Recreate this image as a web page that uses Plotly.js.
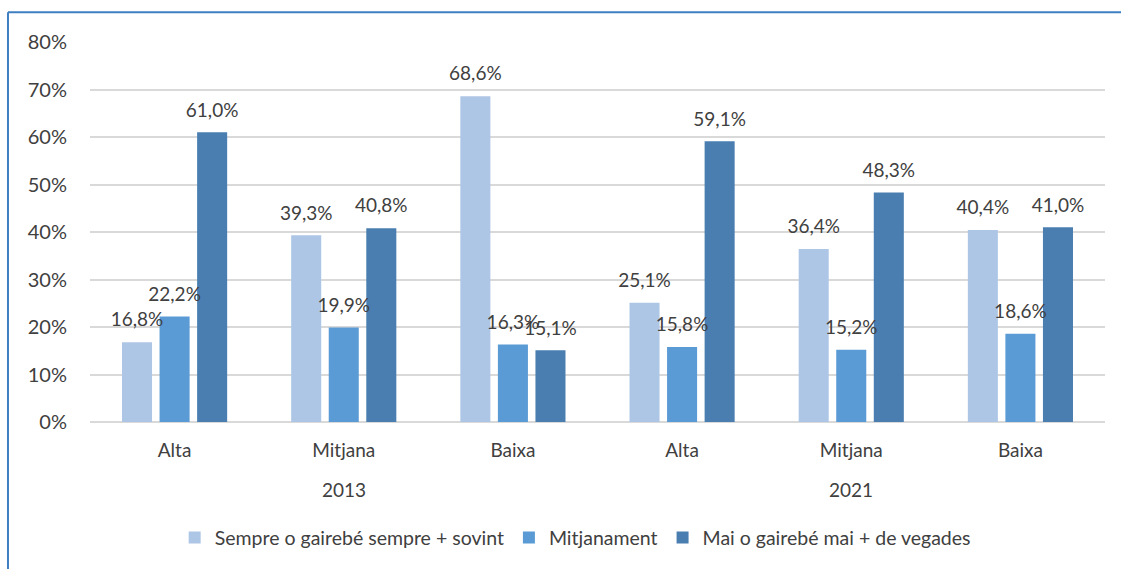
<!DOCTYPE html>
<html>
<head>
<meta charset="utf-8">
<script src="https://cdn.plot.ly/plotly-3.0.1.min.js"></script>
<style>html,body{margin:0;padding:0;background:#fff;}#chart{width:1121px;height:569px;}</style>
</head>
<body>
<div id="chart"></div>
<script>
const years = ['2013','2013','2013','2021','2021','2021'];
const classes = ['Alta','Mitjana','Baixa','Alta','Mitjana','Baixa'];
const seriesNames = ['Sempre o gairebé sempre + sovint','Mitjanament','Mai o gairebé mai + de vegades'];
const sempre = [16.8, 39.3, 68.6, 25.1, 36.4, 40.4];
const mitjanament = [22.2, 19.9, 16.3, 15.8, 15.2, 18.6];
const mai = [61.0, 40.8, 15.1, 59.1, 48.3, 41.0];
const yTicks = [0, 10, 20, 30, 40, 50, 60, 70, 80];
const yTickText = ['0%', '10%', '20%', '30%', '40%', '50%', '60%', '70%', '80%'];

const colors = ['#adc6e6', '#5b9bd5', '#4a7eb0'];
const textColor = '#404040';
const fontFam = 'Lato, "Open Sans", sans-serif';
const allSeries = [sempre, mitjanament, mai];

// unique category keys (class + year), shown with class names only
const keys = classes.map((c, i) => c + ' ' + years[i]);

const traces = [];
allSeries.forEach((vals, i) => {
  traces.push({
    type: 'bar', name: seriesNames[i], x: keys, y: vals,
    marker: {color: colors[i]}, hoverinfo: 'y'
  });
});
allSeries.forEach((vals, i) => {
  traces.push({
    type: 'scatter', mode: 'markers+text', x: keys, y: vals,
    texttemplate: '%{y:.1f}%', textposition: 'top center',
    textfont: {size: 19, color: textColor, family: fontFam},
    marker: {size: 16, opacity: 0, color: colors[i]},
    showlegend: false, cliponaxis: false, hoverinfo: 'skip'
  });
});

// year group labels centred under the middle category of each year
const uniqueYears = [...new Set(years)];
const yearAnnotations = uniqueYears.map(yr => {
  const idx = years.map((v, i) => v === yr ? i : -1).filter(i => i >= 0);
  const mid = idx[Math.floor(idx.length / 2)];
  return {
    text: yr, xref: 'x', x: keys[mid], yref: 'paper', y: -0.1775, yanchor: 'middle',
    showarrow: false, font: {size: 19, color: textColor, family: fontFam}
  };
});

const layout = {
  width: 1121, height: 569,
  margin: {l: 90, r: 16, t: 42, b: 144},
  paper_bgcolor: '#ffffff', plot_bgcolor: '#ffffff',
  separators: ',.',
  font: {family: fontFam, size: 19, color: textColor},
  barmode: 'group', bargap: 0.334, bargroupgap: 0.2,
  scattermode: 'group', scattergap: 0.334,
  showlegend: true,
  legend: {orientation: 'h', x: 0.478, xanchor: 'center', y: -0.305, yanchor: 'middle',
           itemwidth: 30,
           font: {size: 19.5, color: textColor, family: fontFam}, traceorder: 'normal'},
  xaxis: {type: 'category', tickvals: keys, ticktext: classes, showgrid: false, ticks: '',
          tickfont: {size: 19, color: textColor}, showline: false, zeroline: false,
          ticklabelstandoff: 15, fixedrange: true},
  yaxis: {range: [0, 80], tickvals: yTicks, ticktext: yTickText, showgrid: true,
          gridcolor: '#d9d9d9', gridwidth: 2, zeroline: true, zerolinecolor: '#d9d9d9',
          zerolinewidth: 2, showline: false, ticks: '', ticklabelstandoff: 22,
          tickfont: {size: 20, color: textColor}, fixedrange: true},
  annotations: yearAnnotations,
  shapes: [
    {type: 'line', xref: 'paper', yref: 'paper', x0: -0.0808, x1: 1.2, y0: 1.0783, y1: 1.0783,
     line: {color: '#3f7fc1', width: 2}},
    {type: 'line', xref: 'paper', yref: 'paper', x0: -0.0808, x1: -0.0808, y0: -0.5, y1: 1.0783,
     line: {color: '#3f7fc1', width: 2}}
  ]
};

Plotly.newPlot('chart', traces, layout, {displayModeBar: false, staticPlot: true});
</script>
</body>
</html>
